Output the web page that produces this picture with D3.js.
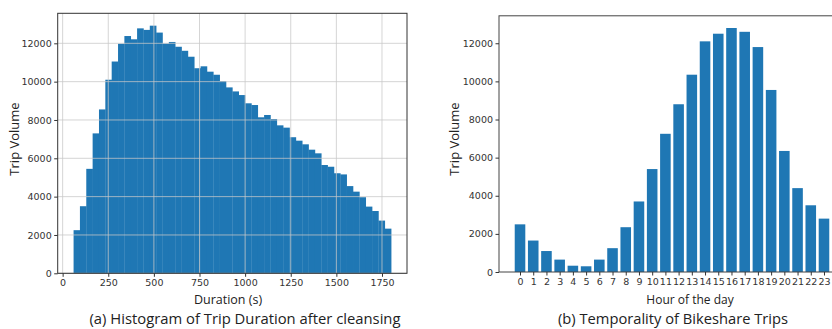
<!DOCTYPE html>
<html>
<head>
<meta charset="utf-8">
<script src="https://cdn.jsdelivr.net/npm/d3@7"></script>
<style>
  html, body { margin: 0; padding: 0; background: #fff; }
  svg { display: block; }
  .tick text { font-family: "DejaVu Sans", sans-serif; font-size: 9.5px; fill: #333; }
  .lbl { font-family: "Open Sans", sans-serif; fill: #222; }
</style>
</head>
<body>
<svg id="chart" width="832" height="329"></svg>
<script>
// ---- Data: (a) histogram of trip duration ----
const durationBinStart = 60;
const durationBinEnd = 1800;
const durationCounts = [
  2250, 3500, 5450, 7300, 8550, 10100, 11050, 11980, 12380, 12210,
  12780, 12700, 12920, 12560, 11990, 12070, 11820, 11610, 11300, 10700,
  10800, 10520, 10360, 10030, 9700, 9490, 9300, 8870, 8780, 8140,
  8260, 8050, 7720, 7600, 7100, 6920, 6730, 6450, 6260, 5650,
  5560, 5220, 5160, 4550, 4260, 3970, 3480, 3250, 2750, 2330
];
const durationTicks = [0, 250, 500, 750, 1000, 1250, 1500, 1750];
const volumeTicks = [0, 2000, 4000, 6000, 8000, 10000, 12000];

// ---- Data: (b) trips by hour of day ----
const hours = d3.range(0, 24);
const hourlyTrips = [
  2500, 1650, 1100, 650, 330, 300, 650, 1250, 2350, 3700,
  5400, 7250, 8800, 10350, 12100, 12500, 12800, 12600, 11800, 9550,
  6350, 4400, 3500, 2800
];

const svg = d3.select("#chart");
svg.append("rect").attr("width", 832).attr("height", 329).attr("fill", "#fff");
const BAR = "#1f77b4";

// ================= Chart (a) =================
(function () {
  const L = 57.7, R = 407, T = 13.3, B = 273.3;
  const n = durationCounts.length;
  const w = (durationBinEnd - durationBinStart) / n;
  const bins = durationCounts.map((c, i) => ({ x0: durationBinStart + i * w, x1: durationBinStart + (i + 1) * w, c }));
  const span = durationBinEnd - durationBinStart;
  const x = d3.scaleLinear().domain([durationBinStart - 0.05 * span, durationBinEnd + 0.05 * span]).range([L, R]);
  const yMax = d3.max(durationCounts) * 1.05;
  const y = d3.scaleLinear().domain([0, yMax]).range([B, T]);
  const g = svg.append("g");

  g.append("g").selectAll("rect").data(bins).join("rect")
    .attr("x", d => x(d.x0)).attr("width", d => x(d.x1) - x(d.x0) + 0.3)
    .attr("y", d => y(d.c)).attr("height", d => y(0) - y(d.c))
    .attr("fill", BAR);

  // grid on top
  const grid = g.append("g").attr("stroke", "#c8c8c8").attr("stroke-opacity", 0.85).attr("stroke-width", 0.9);
  grid.selectAll("line.gx").data(durationTicks).join("line").attr("class", "gx")
    .attr("x1", d => x(d)).attr("x2", d => x(d)).attr("y1", T).attr("y2", B);
  grid.selectAll("line.gy").data(volumeTicks).join("line").attr("class", "gy")
    .attr("x1", L).attr("x2", R).attr("y1", d => y(d)).attr("y2", d => y(d));

  g.append("rect").attr("x", L).attr("y", T).attr("width", R - L).attr("height", B - T)
    .attr("fill", "none").attr("stroke", "#333").attr("stroke-width", 1);

  const ax = g.append("g").attr("transform", `translate(0,${B})`)
    .call(d3.axisBottom(x).tickValues(durationTicks).tickSize(3.5).tickPadding(2.5).tickFormat(d3.format("d")));
  ax.select(".domain").remove();
  ax.selectAll(".tick line").attr("stroke", "#333");
  const ay = g.append("g").attr("transform", `translate(${L},0)`)
    .call(d3.axisLeft(y).tickValues(volumeTicks).tickSize(3.5).tickPadding(2.5).tickFormat(d3.format("d")));
  ay.select(".domain").remove();
  ay.selectAll(".tick line").attr("stroke", "#333");

  g.append("text").attr("class", "lbl").attr("x", 228).attr("y", 304).attr("text-anchor", "middle")
    .attr("font-size", 12.5).text("Duration (s)");
  g.append("text").attr("class", "lbl").attr("transform", "translate(19,139) rotate(-90)")
    .attr("text-anchor", "middle").attr("font-size", 13).text("Trip Volume");
  g.append("text").attr("class", "lbl").attr("x", 245).attr("y", 324).attr("text-anchor", "middle")
    .attr("font-size", 14.8).text("(a) Histogram of Trip Duration after cleansing");
})();

// ================= Chart (b) =================
(function () {
  const L = 499, T = 15.8, B = 272;
  const x = d3.scaleLinear().domain([-1.59, 24.59]).range([L, 845]);
  const yMax = d3.max(hourlyTrips) * 1.05;
  const y = d3.scaleLinear().domain([0, yMax]).range([B, T]);
  const g = svg.append("g");

  g.append("g").selectAll("rect").data(hours).join("rect")
    .attr("x", h => x(h - 0.4)).attr("width", h => x(h + 0.4) - x(h - 0.4))
    .attr("y", h => y(hourlyTrips[h])).attr("height", h => y(0) - y(hourlyTrips[h]))
    .attr("fill", BAR);

  g.append("rect").attr("x", L).attr("y", T).attr("width", 845 - L).attr("height", B - T)
    .attr("fill", "none").attr("stroke", "#444").attr("stroke-width", 1);

  const ax = g.append("g").attr("transform", `translate(0,${B})`)
    .call(d3.axisBottom(x).tickValues(hours).tickSize(3.5).tickPadding(2.5).tickFormat(d3.format("d")));
  ax.select(".domain").remove();
  ax.selectAll(".tick line").attr("stroke", "#333");
  const ay = g.append("g").attr("transform", `translate(${L},0)`)
    .call(d3.axisLeft(y).tickValues(volumeTicks).tickSize(3.5).tickPadding(2.5).tickFormat(d3.format("d")));
  ay.select(".domain").remove();
  ay.selectAll(".tick line").attr("stroke", "#333");

  g.append("text").attr("class", "lbl").attr("x", 690).attr("y", 304).attr("text-anchor", "middle")
    .attr("font-size", 12).text("Hour of the day");
  g.append("text").attr("class", "lbl").attr("transform", "translate(459,139) rotate(-90)")
    .attr("text-anchor", "middle").attr("font-size", 13).text("Trip Volume");
  g.append("text").attr("class", "lbl").attr("x", 673).attr("y", 324).attr("text-anchor", "middle")
    .attr("font-size", 14.7).text("(b) Temporality of Bikeshare Trips");
})();
</script>
</body>
</html>
